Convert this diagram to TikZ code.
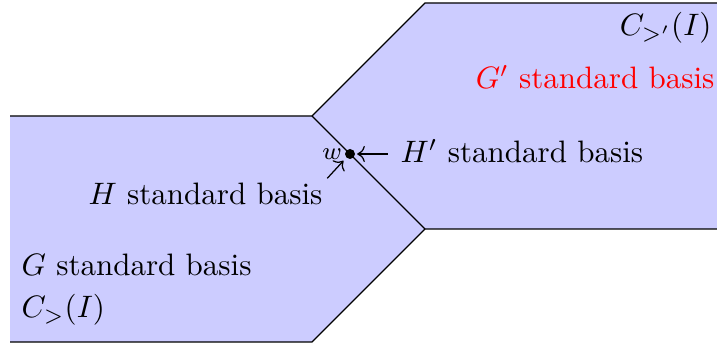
\documentclass[tikz,border=0pt]{standalone}
\usetikzlibrary{arrows.meta}
\begin{document}
\begin{tikzpicture}[x=0.3226pt,y=-0.3226pt,
  region/.style={fill=blue!20,draw=none},
  edge/.style={draw=black,line width=0.4pt},
  lbl/.style={inner sep=0pt},
  dot/.style={circle,fill=black,inner sep=0pt,minimum size=10*0.3226pt},
  pointer/.style={->,line width=0.4pt}]
\useasboundingbox (0,0) rectangle (717,347);
% regions
\fill[region] (10,116) -- (312,116) -- (425,229) -- (312,342) -- (10,342) -- cycle;
\fill[region] (717,3) -- (425,3) -- (312,116) -- (425,229) -- (717,229) -- cycle;
% edges
\draw[edge] (717,3) -- (425,3) -- (312,116) -- (10,116);
\draw[edge] (312,116) -- (425,229) -- (717,229);
\draw[edge] (425,229) -- (312,342) -- (10,342);
% point w
\node[dot,label={[font=\footnotesize,inner sep=0.6pt]left:$w$}] (w) at (350,154) {};
% labels
\node[lbl,anchor=base east] (cp) at (712,36) {$C_{>'}(I)$};
\node[lbl,anchor=base east,text=red] (gp) at (715,89) {$G'$ standard basis};
\node[lbl,anchor=base west] (hp) at (400,163) {$H'$ standard basis};
\node[lbl,anchor=base west] (hn) at (88,205) {$H$ standard basis};
\node[lbl,anchor=base west] (gn) at (21,276) {$G$ standard basis};
\node[lbl,anchor=base west] (cn) at (21,318) {$C_{>}(I)$};
% pointers
\draw[pointer,shorten <=4pt,shorten >=0.5pt] (hp.west |- w) -- (w.east);
\draw[pointer,shorten <=2pt,shorten >=1.2pt] (hn.north east) -- (w.south west);
\end{tikzpicture}
\end{document}
